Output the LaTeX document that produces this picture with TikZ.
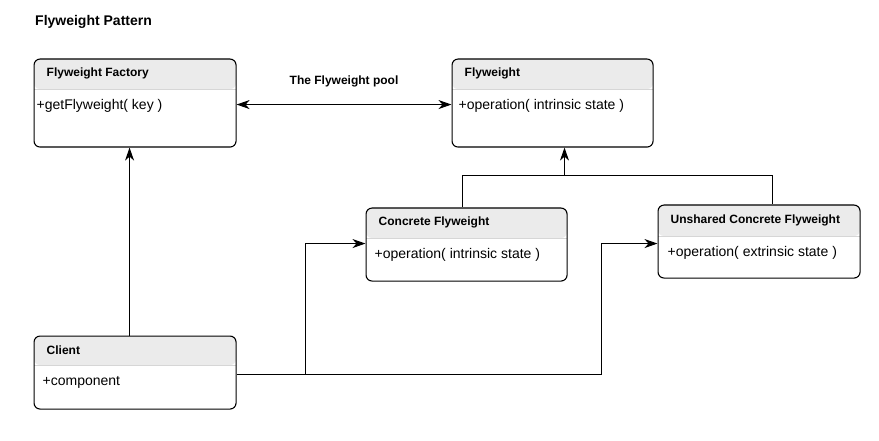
\documentclass[tikz,border=0pt]{standalone}
\usepackage{fontspec}
\setmainfont{Liberation Sans}
\usetikzlibrary{arrows.meta}
\definecolor{headfill}{HTML}{EBEBEB}
\definecolor{sepline}{HTML}{D6D6D6}
\tikzset{
  classbox/.style={draw=black, line width=1.1pt, rounded corners=6pt, inner sep=0pt},
  titletext/.style={font=\bfseries\fontsize{12}{14}\selectfont, inner sep=0pt, anchor=west},
  bodytext/.style={font=\fontsize{14}{16}\selectfont, inner sep=0pt, anchor=west},
  conn/.style={draw=black, line width=1pt},
  arr/.style={-{Stealth[length=13pt, width=9pt, inset=4pt]}},
  darr/.style={{Stealth[length=13pt, width=9pt, inset=4pt]}-{Stealth[length=13pt, width=9pt, inset=4pt]}}
}
% #1 name, #2 x, #3 y, #4 w, #5 h, #6 header h, #7 body x-offset, #8 title, #9 body
\newcommand\umlclass[9]{%
  \node[classbox, anchor=north west, minimum width=#4pt, minimum height=#5pt,
    path picture={
      \fill[headfill] (path picture bounding box.north west) rectangle ([yshift=-#6pt]path picture bounding box.north east);
      \draw[sepline, line width=0.8pt] ([yshift=-#6pt]path picture bounding box.north west) -- ([yshift=-#6pt]path picture bounding box.north east);
    }] (#1) at (#2,#3) {};
  \node[titletext] (#1-t) at ([xshift=13pt, yshift=-#6pt/2]#1.north west) {#8};
  \node[bodytext] (#1-b) at ([xshift=#7pt, yshift=-#6pt-17.5pt]#1.north west) {#9};
}
\begin{document}
\begin{tikzpicture}[x=1pt, y=-1pt]
\useasboundingbox (0,0) rectangle (879,441);
\node[font=\bfseries\fontsize{14}{16}\selectfont, anchor=west, inner sep=0pt] (title) at (35,22) {Flyweight Pattern};

\umlclass{fac}{33.5}{58.5}{202}{88}{30}{3}{Flyweight Factory}{+getFlyweight( key )}
\umlclass{fw}{451.5}{58.5}{201}{88}{30}{7}{Flyweight}{+operation( intrinsic state )}
\umlclass{conc}{365.5}{207.5}{201}{73}{30}{9}{Concrete Flyweight}{+operation( intrinsic state )}
\umlclass{unsh}{657.5}{204.5}{202}{73}{31}{10}{Unshared Concrete Flyweight}{+operation( extrinsic state )}
\umlclass{cli}{33.5}{335.5}{202}{73}{29}{9}{Client}{+component}

% pool
\draw[conn, darr] ([yshift=-1.5pt]fac.east) -- ([yshift=-1.5pt]fw.west)
  node[midway, above=17pt, titletext, anchor=south] (pool) {The Flyweight pool};

% client to factory
\draw[conn, arr] ([xshift=-5.5pt]cli.north) -- ([xshift=-5.5pt]fac.south);

% client to concrete / unshared
\coordinate (j1) at (305.5,374.5);
\coordinate (j2) at (601.5,374.5);
\draw[conn] (cli.east |- j1) -- (j2);
\draw[conn, arr] (j1) |- ([yshift=1pt]conc.west);
\draw[conn, arr] (j2) |- ([yshift=-2pt]unsh.west);

% generalization
\coordinate (bar) at (564.5,175.5);
\draw[conn] ([xshift=-4pt]conc.north) |- (bar) -| ([xshift=13pt]unsh.north);
\draw[conn, arr] (bar) -- (bar |- fw.south);
\end{tikzpicture}
\end{document}
